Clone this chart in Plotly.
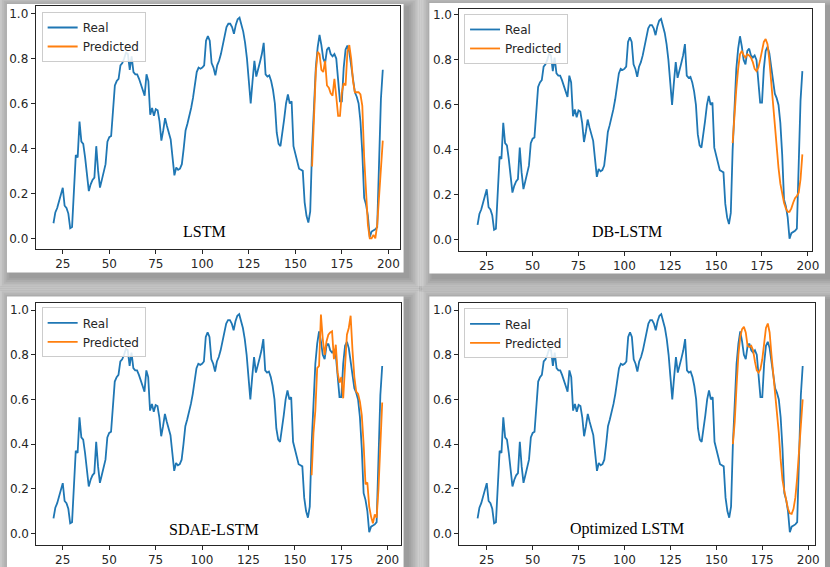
import plotly.graph_objects as go

# ---- data -------------------------------------------------------------
x_real = list(range(20, 198))
real = [
    0.067, 0.115, 0.135, 0.165, 0.195, 0.225, 0.145, 0.135, 0.11, 0.045,
    0.05, 0.24, 0.37, 0.36, 0.52, 0.43, 0.42, 0.36, 0.29, 0.21,
    0.24, 0.26, 0.27, 0.41, 0.30, 0.226, 0.26, 0.29, 0.33, 0.43,
    0.45, 0.455, 0.55, 0.68, 0.70, 0.71, 0.77, 0.78, 0.80, 0.827,
    0.82, 0.75, 0.81, 0.74, 0.73, 0.73, 0.71, 0.68, 0.66, 0.635,
    0.73, 0.70, 0.55, 0.58, 0.545, 0.575, 0.57, 0.52, 0.435, 0.48,
    0.535, 0.50, 0.475, 0.44, 0.36, 0.28, 0.315, 0.305, 0.31, 0.33,
    0.40, 0.48, 0.51, 0.54, 0.58, 0.625, 0.68, 0.74, 0.76, 0.755,
    0.76, 0.77, 0.88, 0.90, 0.88, 0.78, 0.76, 0.725, 0.77, 0.79,
    0.82, 0.86, 0.90, 0.94, 0.955, 0.955, 0.94, 0.91, 0.95, 0.975,
    0.982, 0.95, 0.92, 0.87, 0.80, 0.70, 0.60, 0.70, 0.79, 0.72,
    0.76, 0.785, 0.82, 0.87, 0.73, 0.72, 0.725, 0.70, 0.66, 0.60,
    0.47, 0.42, 0.41, 0.46, 0.53, 0.60, 0.64, 0.60, 0.61, 0.41,
    0.38, 0.34, 0.31, 0.305, 0.30, 0.16, 0.10, 0.07, 0.12, 0.40,
    0.62, 0.76, 0.85, 0.905, 0.86, 0.80, 0.78, 0.84, 0.85, 0.82,
    0.81, 0.82, 0.80, 0.70, 0.61, 0.61, 0.76, 0.84, 0.858, 0.83,
    0.77, 0.70, 0.65, 0.63, 0.60, 0.52, 0.38, 0.18, 0.15, 0.10,
    0.005, 0.03, 0.035, 0.04, 0.05, 0.33, 0.62, 0.75,
]

x_pred = list(range(159, 198))
pred_lstm = [
    0.32, 0.55, 0.74, 0.83, 0.82, 0.75, 0.74, 0.79, 0.68, 0.67,
    0.645, 0.635, 0.71, 0.63, 0.545, 0.545, 0.65, 0.69, 0.68, 0.83,
    0.86, 0.80, 0.70, 0.65, 0.65, 0.65, 0.64, 0.59, 0.36, 0.19,
    0.06, 0.0, 0.0, 0.015, 0.0, 0.06, 0.20, 0.32, 0.435,
]
pred_db_lstm = [
    0.43, 0.57, 0.67, 0.76, 0.825, 0.84, 0.82, 0.81, 0.825, 0.82,
    0.81, 0.79, 0.76, 0.75, 0.765, 0.80, 0.84, 0.88, 0.893, 0.87,
    0.80, 0.70, 0.60, 0.50, 0.40, 0.32, 0.25, 0.20, 0.165, 0.14,
    0.125, 0.125, 0.14, 0.165, 0.185, 0.195, 0.21, 0.27, 0.38,
]
pred_sdae_lstm = [
    0.26, 0.45, 0.55, 0.74, 0.75, 0.98, 0.87, 0.80, 0.86, 0.89,
    0.90, 0.905, 0.78, 0.845, 0.72, 0.675, 0.70, 0.605, 0.75, 0.89,
    0.92, 0.975, 0.82, 0.70, 0.635, 0.625, 0.59, 0.53, 0.40, 0.22,
    0.228, 0.12, 0.075, 0.045, 0.085, 0.07, 0.20, 0.40, 0.586,
]
pred_opt_lstm = [
    0.40, 0.50, 0.66, 0.80, 0.88, 0.915, 0.925, 0.90, 0.84, 0.835,
    0.84, 0.82, 0.77, 0.73, 0.72, 0.735, 0.78, 0.86, 0.92, 0.94,
    0.90, 0.80, 0.72, 0.64, 0.56, 0.45, 0.33, 0.24, 0.19, 0.15,
    0.11, 0.09, 0.087, 0.11, 0.16, 0.25, 0.38, 0.50, 0.60,
]

model_names = ["LSTM", "DB-LSTM", "SDAE-LSTM", "Optimized LSTM"]
predictions = [pred_lstm, pred_db_lstm, pred_sdae_lstm, pred_opt_lstm]
x_ticks = [25, 50, 75, 100, 125, 150, 175, 200]
y_ticks = [0.0, 0.2, 0.4, 0.6, 0.8, 1.0]

# ---- page geometry (pixels) -------------------------------------------
W, H = 830, 567


def fx(p):
    return p / W


def fy(p):
    return 1 - p / H


# plot frames: (left, right, top, bottom) in px, axis ranges
frames = [
    dict(box=(36, 403.3, 5, 248.3), xr=[10.45, 206.2], yr=[-0.047, 1.034]),
    dict(box=(463.3, 819, 8.3, 250), xr=[10.1, 202.3], yr=[-0.0475, 1.025]),
    dict(box=(36.7, 404, 302.3, 544.7), xr=[10.8, 206.9], yr=[-0.051, 1.033]),
    dict(box=(463.3, 822.3, 302.3, 544.7), xr=[10.1, 203.9], yr=[-0.051, 1.033]),
]
# white cards behind each plot
cards = [(7, 3, 407, 272), (433, 2, 832, 273), (7, 296, 407, 570), (433, 296, 832, 570)]
# legend top-left corners
legend_pos = [(42, 11), (468, 13), (42, 307), (468, 308)]
# model captions (centre)
caption_pos = [(206, 231), (632, 231), (216, 529), (632, 529)]

BLUE = "#1f77b4"
ORANGE = "#ff7f0e"
INK = "#262626"

fig = go.Figure()
layout = dict(
    width=W, height=H,
    margin=dict(l=0, r=0, t=0, b=0),
    paper_bgcolor="#e3e3e3",
    plot_bgcolor="white",
    showlegend=True,
    font=dict(family="DejaVu Sans", size=12, color=INK),
)

shapes = []
# soft drop shadows
for (x0, y0, x1, y1) in cards:
    for i in range(1, 9):
        e = i * 1.8
        shapes.append(dict(
            type="rect", xref="paper", yref="paper", layer="below",
            x0=fx(x0 - e + 4), x1=fx(x1 + e + 4),
            y0=fy(y1 + e + 4), y1=fy(y0 - e + 4),
            fillcolor="rgba(0,0,0,0.045)", line=dict(width=0),
        ))
for (x0, y0, x1, y1) in cards:
    shapes.append(dict(
        type="rect", xref="paper", yref="paper", layer="below",
        x0=fx(x0), x1=fx(x1), y0=fy(y1), y1=fy(y0),
        fillcolor="white", line=dict(width=0),
    ))

annotations = []
for k in range(4):
    n = "" if k == 0 else str(k + 1)
    fr = frames[k]
    left, right, top, bottom = fr["box"]
    lg = "legend" if k == 0 else f"legend{k + 1}"

    fig.add_trace(go.Scatter(
        x=x_real, y=real, mode="lines", name="Real",
        line=dict(color=BLUE, width=1.8),
        xaxis="x" + n, yaxis="y" + n, legend=lg,
    ))
    fig.add_trace(go.Scatter(
        x=x_pred, y=predictions[k], mode="lines", name="Predicted",
        line=dict(color=ORANGE, width=1.8),
        xaxis="x" + n, yaxis="y" + n, legend=lg,
    ))

    axis_common = dict(
        showgrid=False, zeroline=False, showline=True, mirror=True,
        linecolor=INK, linewidth=1, ticks="outside", ticklen=4,
        tickcolor=INK, tickwidth=1,
        tickfont=dict(family="DejaVu Sans", size=12, color=INK),
    )
    layout["xaxis" + n] = dict(
        axis_common, domain=[fx(left), fx(right)], range=fr["xr"],
        tickvals=x_ticks, anchor="y" + n,
    )
    layout["yaxis" + n] = dict(
        axis_common, domain=[fy(bottom), fy(top)], range=fr["yr"],
        tickvals=y_ticks, tickformat=".1f", anchor="x" + n,
    )

    lx, ly = legend_pos[k]
    layout[lg] = dict(
        x=fx(lx), y=fy(ly), xanchor="left", yanchor="top",
        xref="paper", yref="paper",
        bgcolor="rgba(255,255,255,0.85)", bordercolor="#cccccc", borderwidth=1,
        font=dict(family="DejaVu Sans", size=12, color=INK),
        tracegroupgap=0, itemwidth=30,
    )

    cx, cy = caption_pos[k]
    annotations.append(dict(
        text=model_names[k], x=fx(cx), y=fy(cy), xref="paper", yref="paper",
        xanchor="center", yanchor="middle", showarrow=False,
        font=dict(family="Liberation Serif", size=16, color="black"),
    ))

layout["shapes"] = shapes
layout["annotations"] = annotations
fig.update_layout(**layout)

fig.write_html("out.html")
